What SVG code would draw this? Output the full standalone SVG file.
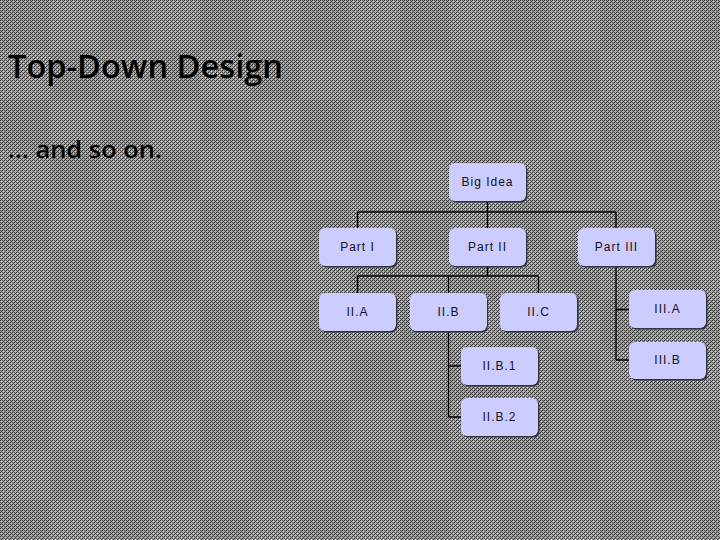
<svg xmlns="http://www.w3.org/2000/svg" width="720" height="540" viewBox="0 0 720 540">
  <defs>
    <pattern id="dither" width="4" height="4" patternUnits="userSpaceOnUse">
      <rect width="4" height="4" fill="#a0a0a0"/>
      <rect x="0" y="0" width="1" height="1" fill="#303030"/>
      <rect x="2" y="0" width="1" height="1" fill="#5e5e5e"/>
      <rect x="1" y="1" width="1" height="1" fill="#d8d8d8"/>
      <rect x="3" y="1" width="1" height="1" fill="#444444"/>
      <rect x="0" y="2" width="1" height="1" fill="#707070"/>
      <rect x="2" y="2" width="1" height="1" fill="#262626"/>
      <rect x="1" y="3" width="1" height="1" fill="#4e4e4e"/>
      <rect x="3" y="3" width="1" height="1" fill="#cccccc"/>
    </pattern>
    <pattern id="tone" width="100" height="100" patternUnits="userSpaceOnUse">
      <rect x="0" y="0" width="50" height="50" fill="#000" opacity="0.05"/>
      <rect x="50" y="50" width="50" height="50" fill="#000" opacity="0.05"/>
    </pattern>
    <style>
      .box { fill: #ccccff; }
      .shadow { fill: #333344; }
      .lbl { font-family: "Liberation Sans", Arial, sans-serif; font-size: 12px; letter-spacing: 1px; fill: #111122; text-anchor: middle; }
      .conn { stroke: #000; stroke-width: 1.3; fill: none; }
      .title { font-family: "Open Sans", "Noto Sans", sans-serif; fill: #000; font-weight: 600; }
    </style>
  </defs>
  <rect width="720" height="540" fill="url(#dither)"/>
  <rect width="720" height="540" fill="url(#tone)"/>

  <text class="title" x="8" y="78" font-size="33" textLength="275" lengthAdjust="spacingAndGlyphs">Top-Down Design</text>
  <text class="title" x="8" y="158" font-size="24" textLength="154" lengthAdjust="spacingAndGlyphs">… and so on.</text>

  <g id="connectors">
    <path class="conn" d="M487.5 201 V212 M357.5 212 H616 M357.5 212 V228 M487.5 212 V228 M616 212 V228"/>
    <path class="conn" d="M487.5 266 V276 M357.5 276 H538.5 M357.5 276 V293 M448.5 276 V293 M538.5 276 V293"/>
    <path class="conn" d="M448.5 331 V417 M448.5 366 H461 M448.5 417 H461"/>
    <path class="conn" d="M616 266 V360 M616 309.5 H629 M616 360 H629"/>
  </g>

  <g id="big-idea">
    <rect class="shadow" x="450.5" y="164.5" width="77" height="38" rx="6"/>
    <rect class="box" x="449" y="163" width="77" height="38" rx="6"/>
    <text class="lbl" x="487.5" y="186">Big Idea</text>
  </g>
  <g id="part-1">
    <rect class="shadow" x="320.5" y="229.5" width="77" height="38" rx="6"/>
    <rect class="box" x="319" y="228" width="77" height="38" rx="6"/>
    <text class="lbl" x="357.5" y="251">Part I</text>
  </g>
  <g id="part-2">
    <rect class="shadow" x="450.5" y="229.5" width="77" height="38" rx="6"/>
    <rect class="box" x="449" y="228" width="77" height="38" rx="6"/>
    <text class="lbl" x="487.5" y="251">Part II</text>
  </g>
  <g id="part-3">
    <rect class="shadow" x="579.5" y="229.5" width="77" height="38" rx="6"/>
    <rect class="box" x="578" y="228" width="77" height="38" rx="6"/>
    <text class="lbl" x="616.5" y="251">Part III</text>
  </g>
  <g id="ii-a">
    <rect class="shadow" x="320.5" y="294.5" width="77" height="38" rx="6"/>
    <rect class="box" x="319" y="293" width="77" height="38" rx="6"/>
    <text class="lbl" x="357.5" y="316">II.A</text>
  </g>
  <g id="ii-b">
    <rect class="shadow" x="411" y="294.5" width="77" height="38" rx="6"/>
    <rect class="box" x="410" y="293" width="77" height="38" rx="6"/>
    <text class="lbl" x="448.5" y="316">II.B</text>
  </g>
  <g id="ii-c">
    <rect class="shadow" x="501.5" y="294.5" width="77" height="38" rx="6"/>
    <rect class="box" x="500" y="293" width="77" height="38" rx="6"/>
    <text class="lbl" x="538.5" y="316">II.C</text>
  </g>
  <g id="ii-b-1">
    <rect class="shadow" x="462.5" y="348.5" width="77" height="38" rx="6"/>
    <rect class="box" x="461" y="347" width="77" height="38" rx="6"/>
    <text class="lbl" x="499.5" y="370">II.B.1</text>
  </g>
  <g id="ii-b-2">
    <rect class="shadow" x="462.5" y="399.5" width="77" height="38" rx="6"/>
    <rect class="box" x="461" y="398" width="77" height="38" rx="6"/>
    <text class="lbl" x="499.5" y="421">II.B.2</text>
  </g>
  <g id="iii-a">
    <rect class="shadow" x="630.5" y="291.5" width="77" height="38" rx="6"/>
    <rect class="box" x="629" y="290" width="77" height="38" rx="6"/>
    <text class="lbl" x="667.5" y="313">III.A</text>
  </g>
  <g id="iii-b">
    <rect class="shadow" x="630.5" y="343.5" width="77" height="37" rx="6"/>
    <rect class="box" x="629" y="342" width="77" height="37" rx="6"/>
    <text class="lbl" x="667.5" y="364">III.B</text>
  </g>
</svg>
